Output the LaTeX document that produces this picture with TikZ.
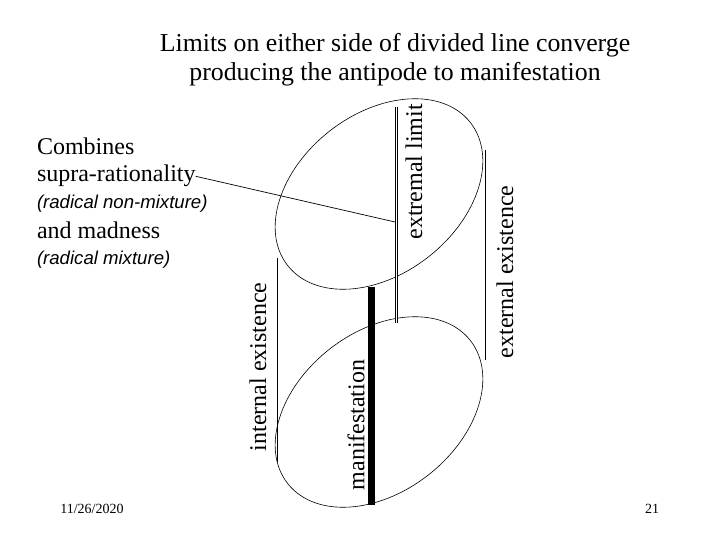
\documentclass[tikz,border=0pt]{standalone}
\usepackage{fontspec}
\setmainfont{Liberation Serif}
\newfontfamily\remarkfont{Liberation Sans}
\begin{document}
\begin{tikzpicture}[x=1pt,y=-1pt,
  every node/.style={inner sep=0pt, outer sep=0pt},
  big/.style={font=\fontsize{24}{28}\selectfont},
  heading/.style={font=\fontsize{25.8}{30}\selectfont},
  remark/.style={font=\remarkfont\itshape\fontsize{18.6}{22}\selectfont},
  foot/.style={font=\fontsize{14}{16}\selectfont},
  rim/.style={line width=0.6pt},
  plain/.style={line width=0.7pt},
  limitline/.style={double, double distance=1.8pt, line width=0.8pt},
  bar/.style={line width=7pt}]
\useasboundingbox (0,0) rectangle (720,540);

% title
\node[heading] (t1) at (395,45) {Limits on either side of divided line converge};
\node[heading] (t2) at (395,74) {producing the antipode to manifestation};

% ellipses
\draw[rim, rotate around={38:(379,194)}] (379,194) ellipse [x radius=116pt, y radius=80pt];
\draw[rim, rotate around={38:(379,412)}] (379,412) ellipse [x radius=116pt, y radius=80pt];

% vertical lines
\coordinate (inTop) at (277,258);
\coordinate (inBot) at (277,462);
\coordinate (exTop) at (485,150);
\coordinate (exBot) at (485,360);
\coordinate (dlTop) at (396.5,107);
\coordinate (dlBot) at (396.5,323);
\coordinate (dlMid) at (395,222);
\coordinate (mfTop) at (371.5,287);
\coordinate (mfBot) at (371.5,505);
\draw[plain] (inTop) -- (inBot);
\draw[plain] (exTop) -- (exBot);
\draw[limitline] (dlTop) -- (dlBot);
\draw[bar] (mfTop) -- (mfBot);

% rotated labels
\node[big, rotate=90] (lxl) at (414,172) {extremal limit};
\node[big, rotate=90] (lex) at (505,272) {external existence};
\node[big, rotate=90] (lin) at (258,367) {internal existence};
\node[big, rotate=90] (lmf) at (356,425) {manifestation};

% left text
\node[big, anchor=base west] (comb) at (37,155) {Combines};
\node[big, anchor=base west] (supra) at (37,182) {supra-rationality};
\node[remark, anchor=base west] (rnm) at (37,209) {(radical non-mixture)};
\node[big, anchor=base west] (mad) at (37,239) {and madness};
\node[remark, anchor=base west] (rm) at (37,264) {(radical mixture)};
\draw[plain] (supra.east) -- (dlMid);

% footer
\node[foot] (date) at (92,509) {11/26/2020};
\node[foot] (page) at (652,509) {21};
\end{tikzpicture}
\end{document}
